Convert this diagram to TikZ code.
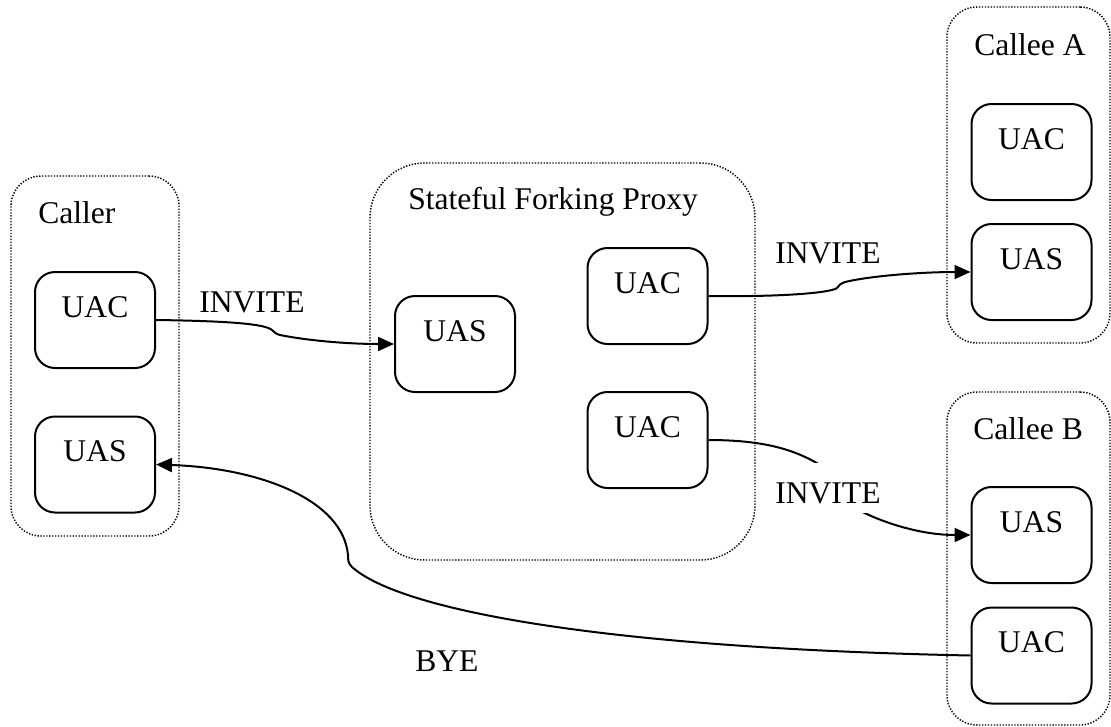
\documentclass[tikz,border=0pt]{standalone}
\usepackage{fontspec}
\setmainfont{Liberation Serif}
\usetikzlibrary{arrows.meta}
\begin{document}
\begin{tikzpicture}[x=0.75pt,y=-0.75pt,
  font=\fontsize{23.7}{28}\selectfont,
  group/.style={draw, line width=1.1pt, dash pattern=on 1pt off 1.2pt,
    rounded corners=22.5pt, inner sep=0pt},
  uabox/.style={draw, line width=1.5pt, rounded corners=15pt,
    minimum width=90pt, inner xsep=0pt, inner ysep=0pt,
    text height=33.75pt, text depth=38.25pt},
  title/.style={anchor=base west, inner sep=0pt},
  msg/.style={-{Triangle[length=12pt,width=10.5pt]}, line width=1.5pt},
]
\useasboundingbox (0,0) rectangle (1111,726);

% groups
\node[group, minimum width=126pt, minimum height=270pt] (caller) at (95,356) {};
\node[group, rounded corners=41pt, minimum width=288.75pt, minimum height=297.75pt] (proxy) at (562.5,361.5) {};
\node[group, minimum width=122.25pt, minimum height=252pt] (calleea) at (1028.5,175) {};
\node[group, minimum width=122.25pt, minimum height=249.75pt] (calleeb) at (1028.5,558.5) {};

% group titles
\node[title] (tcaller) at (38,223) {Caller};
\node[title] (tproxy) at (408,209) {Stateful Forking Proxy};
\node[title] (tcalleea) at (974,55) {Callee A};
\node[title] (tcalleeb) at (973,439) {Callee B};

% user agents
\node[uabox] (cuac) at (95,320) {UAC};
\node[uabox] (cuas) at (95,464.5) {UAS};
\node[uabox] (puas) at (455,344) {UAS};
\node[uabox] (pac1) at (647.5,296) {UAC};
\node[uabox] (pac2) at (647.5,440) {UAC};
\node[uabox] (auac) at (1031.5,152) {UAC};
\node[uabox] (auas) at (1031.5,272) {UAS};
\node[uabox] (buas) at (1031.5,535) {UAS};
\node[uabox] (buac) at (1031.5,655.5) {UAC};

% messages
\draw[msg] (cuac.east) .. controls (230,321) and (265,324) .. (272,330)
  .. controls (274,332) and (276,334) .. (280,335)
  .. controls (310,341) and (350,344) .. (puas.west);
\draw[msg] (pac1.east) .. controls (780,297) and (830,293) .. (837,288)
  .. controls (839,285) and (840,284) .. (845,282)
  .. controls (870,276) and (920,272) .. (auas.west);
\draw[msg] (pac2.east) .. controls (770,440) and (800,452) .. (825,468)
  -- (855,508) .. controls (880,522) and (920,535) .. (buas.west);
\draw[msg] (buac.west) .. controls (600,648) and (400,610) .. (352,567)
  .. controls (348,563) and (348,560) .. (348,555)
  .. controls (343,500) and (260,468) .. (cuas.east);

% message labels
\node[title] (l1) at (199,312) {INVITE};
\node[title] (l2) at (775,263) {INVITE};
\node[anchor=base west, fill=white, inner xsep=6pt, inner ysep=0pt,
  text height=30pt, text depth=7.5pt] (l3) at (767,503) {INVITE};
\node[title] (lbye) at (415,671) {BYE};
\end{tikzpicture}
\end{document}
